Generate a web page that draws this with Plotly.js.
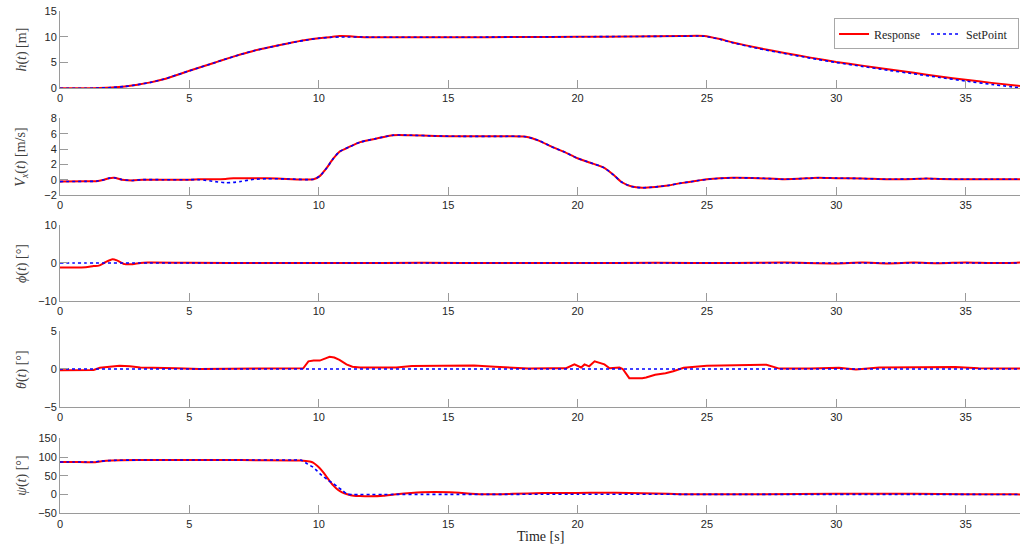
<!DOCTYPE html>
<html>
<head>
<meta charset="utf-8">
<script src="https://cdn.plot.ly/plotly-3.0.1.min.js"></script>
<style>html,body{margin:0;padding:0;background:#fff;}#chart{width:1028px;height:544px;}</style>
</head>
<body>
<div id="chart"></div>
<script>
// ---------- DATA ----------
const seriesNames = ["Response", "SetPoint"];
const xTickVals = [0, 5, 10, 15, 20, 25, 30, 35];

// h(t) [m]
const t_h = [0, 1, 1.5, 2, 2.5, 3, 3.5, 4, 5, 6, 6.2, 7, 7.5, 8, 8.8, 9.5, 10, 10.5, 10.8, 11.2, 11.6, 12, 15, 18, 20, 22, 24, 24.9, 25.5, 26, 27, 28, 29, 30, 31, 32, 33, 34, 35, 36, 37.1];
const h_resp = [0, 0, 0.05, 0.15, 0.35, 0.7, 1.15, 1.75, 3.4, 5.0, 5.35, 6.6, 7.3, 7.85, 8.7, 9.35, 9.7, 9.95, 10.15, 10.1, 9.95, 9.9, 9.9, 9.95, 10.0, 10.05, 10.15, 10.15, 9.55, 8.9, 7.8, 6.85, 5.95, 5.1, 4.4, 3.7, 3.0, 2.3, 1.65, 1.05, 0.45];
const h_set  = [0, 0, 0.05, 0.15, 0.35, 0.7, 1.15, 1.75, 3.4, 5.0, 5.35, 6.6, 7.3, 7.85, 8.7, 9.35, 9.7, 9.9, 9.95, 9.95, 9.95, 9.9, 9.9, 9.95, 10.0, 10.05, 10.1, 10.1, 9.5, 8.85, 7.7, 6.75, 5.85, 5.0, 4.25, 3.5, 2.8, 2.1, 1.4, 0.75, 0.1];

// Vx(t) [m/s]
const t_v = [0, 1, 1.4, 1.7, 1.9, 2.1, 2.4, 2.8, 3.2, 4, 5, 5.4, 6, 6.4, 6.7, 6.95, 7.5, 8, 8.75, 9.8, 10.05, 10.3, 10.55, 10.8, 11.2, 11.6, 12.2, 12.87, 13.5, 14.5, 15.5, 17, 18, 18.5, 19, 19.5, 20, 20.5, 21, 21.4, 21.7, 22.1, 22.5, 23, 23.5, 24, 24.5, 25, 26, 27, 28, 29, 29.3, 30, 31, 32, 33, 33.5, 34, 35, 36, 37.1];
const vx_resp = [-0.25, -0.22, -0.2, 0.0, 0.2, 0.25, 0.0, -0.1, 0.0, 0.0, 0.0, 0.05, 0.05, 0.1, 0.18, 0.2, 0.2, 0.18, 0.1, 0.05, 0.5, 1.5, 2.7, 3.65, 4.3, 4.9, 5.35, 5.8, 5.8, 5.7, 5.65, 5.65, 5.6, 5.1, 4.3, 3.6, 2.8, 2.2, 1.6, 0.6, -0.3, -0.9, -1.05, -0.95, -0.75, -0.45, -0.2, 0.05, 0.25, 0.2, 0.05, 0.2, 0.25, 0.2, 0.15, 0.05, 0.1, 0.15, 0.1, 0.05, 0.05, 0.05];
const vx_set  = [-0.25, -0.22, -0.2, 0.0, 0.2, 0.25, 0.0, -0.1, 0.0, 0.0, 0.0, 0.0, -0.25, -0.4, -0.35, -0.25, 0.05, 0.12, 0.1, 0.05, 0.5, 1.5, 2.7, 3.65, 4.3, 4.9, 5.35, 5.8, 5.8, 5.7, 5.65, 5.65, 5.6, 5.1, 4.3, 3.6, 2.8, 2.2, 1.6, 0.6, -0.3, -0.9, -1.05, -0.95, -0.75, -0.45, -0.2, 0.05, 0.25, 0.2, 0.05, 0.2, 0.25, 0.2, 0.15, 0.05, 0.1, 0.15, 0.1, 0.05, 0.05, 0.05];

// phi(t) [deg]
const t_phi = [0, 0.5, 1.0, 1.3, 1.5, 1.75, 2.03, 2.2, 2.5, 2.8, 3.1, 3.4, 5, 8, 11, 14, 17, 20, 23, 26, 28, 30, 31, 32, 33, 34, 35, 36, 37.1];
const phi_resp = [-1.2, -1.2, -1.1, -0.8, -0.7, 0.2, 1.0, 0.7, -0.3, -0.3, 0.0, 0.1, 0.05, 0.0, 0.0, 0.05, 0.0, 0.0, 0.05, 0.0, 0.1, -0.1, 0.15, -0.1, 0.1, -0.05, 0.15, 0.0, 0.1];
const phi_set  = [0, 0, 0, 0, 0, 0, 0, 0, 0, 0, 0, 0, 0, 0, 0, 0, 0, 0, 0, 0, 0, 0, 0, 0, 0, 0, 0, 0, 0];

// theta(t) [deg]
const t_th = [0, 1.3, 1.54, 2.0, 2.3, 2.7, 3.1, 3.6, 4.25, 4.5, 5.4, 7, 9.27, 9.4, 9.6, 9.8, 10.04, 10.17, 10.42, 10.6, 10.8, 11.07, 11.3, 11.6, 12.5, 13.0, 13.6, 14.5, 15.3, 16.0, 16.8, 18.1, 19.0, 19.56, 19.88, 20.14, 20.27, 20.45, 20.66, 21.04, 21.24, 21.45, 21.62, 21.75, 22.0, 22.5, 22.65, 23.0, 23.4, 23.7, 23.9, 24.1, 25.0, 26.0, 26.9, 27.3, 27.8, 29.0, 30.1, 30.76, 31.66, 33.0, 34.6, 35.5, 37.1];
const th_resp = [-0.15, -0.13, 0.17, 0.35, 0.43, 0.35, 0.2, 0.15, 0.17, 0.1, 0.0, 0.05, 0.1, 0.1, 1.0, 1.1, 1.1, 1.25, 1.6, 1.5, 1.2, 0.6, 0.3, 0.2, 0.2, 0.2, 0.4, 0.45, 0.5, 0.45, 0.3, 0.05, 0.1, 0.1, 0.6, 0.2, 0.6, 0.35, 1.0, 0.6, 0.1, 0.15, 0.2, 0.0, -1.2, -1.2, -1.1, -0.75, -0.55, -0.3, -0.05, 0.17, 0.43, 0.5, 0.5, 0.55, 0.05, 0.05, 0.15, -0.05, 0.2, 0.2, 0.25, 0.1, 0.05];
const th_set  = [0, 0, 0, 0, 0, 0, 0, 0, 0, 0, 0, 0, 0, 0, 0, 0, 0, 0, 0, 0, 0, 0, 0, 0, 0, 0, 0, 0, 0, 0, 0, 0, 0, 0, 0, 0, 0, 0, 0, 0, 0, 0, 0, 0, 0, 0, 0, 0, 0, 0, 0, 0, 0, 0, 0, 0, 0, 0, 0, 0, 0, 0, 0, 0, 0];

// psi(t) [deg]
const t_psi = [0, 0.5, 1.0, 1.3, 1.6, 2.0, 3, 5, 7, 9.0, 9.3, 9.65, 9.78, 10.04, 10.2, 10.36, 10.55, 10.75, 10.9, 11.1, 11.35, 11.6, 12.0, 12.5, 13.0, 14.0, 15.06, 16.3, 17.5, 18.66, 20, 21, 22, 23, 24, 25, 27, 30, 33, 35, 37.1];
const psi_resp = [87, 87, 86, 86, 89, 91, 92, 92, 92, 91, 91, 88, 85, 70, 57, 42, 25, 12, 6, 1, -3, -4, -4.5, -3, 1, 6, 6, 1, 2, 4, 4, 5, 4.5, 3, 1, 1, 1, 2, 2, 1, 0.5];
const psi_set  = [87, 87, 87, 87, 89, 91, 92, 92, 92, 92, 92, 78, 73, 56, 47, 38, 30, 19, 12, 1, 0, 0, 0, 0, 0.5, 0.5, 0.5, 0.5, 0.5, 1, 1, 1, 1, 1, 0.5, 0.5, 0.5, 0.5, 0.5, 0.5, 0];

const yRanges = [[0, 15], [-2, 8], [-10, 10], [-5, 5], [-50, 150]];
const yTickVals = [[0, 5, 10, 15], [-2, 0, 2, 4, 6, 8], [-10, 0, 10], [-5, 0, 5], [-50, 0, 50, 100, 150]];
const yTitles = [
  "<i>h</i>(<i>t</i>) [m]",
  "<i>V<sub>x</sub></i>(<i>t</i>) [m/s]",
  "<i>ϕ</i>(<i>t</i>) [°]",
  "<i>θ</i>(<i>t</i>) [°]",
  "<i>ψ</i>(<i>t</i>) [°]"
];
const xTitle = "Time [s]";

// ---------- BUILD ----------
const panels = [
  [t_h, h_resp, h_set, "spline"],
  [t_v, vx_resp, vx_set, "spline"],
  [t_phi, phi_resp, phi_set, "spline"],
  [t_th, th_resp, th_set, "linear"],
  [t_psi, psi_resp, psi_set, "spline"]
];
const domains = [[0.8377, 0.9798], [0.6415, 0.7825], [0.4467, 0.5864], [0.2513, 0.3921], [0.0564, 0.1943]];
const xRange = [0, 37.1];
const axisColor = "#9a9a9a";
const tickFont = {family: "Liberation Sans, Arial, sans-serif", size: 11, color: "#262626"};
const serif = "Liberation Serif, DejaVu Serif, serif";

const traces = [];
const layout = {
  width: 1028, height: 544,
  margin: {l: 60, r: 8, t: 0, b: 0},
  paper_bgcolor: "#ffffff", plot_bgcolor: "#ffffff",
  showlegend: true,
  legend: {
    orientation: "h", x: 0.999, xanchor: "right", y: 0.966, yanchor: "top",
    bordercolor: "#a8a8a8", borderwidth: 1, bgcolor: "#ffffff",
    font: {family: serif, size: 12, color: "#262626"},
    itemwidth: 30, tracegroupgap: 0, entrywidth: 47, entrywidthmode: "pixels"
  },
  annotations: []
};

panels.forEach((p, i) => {
  const n = i + 1;
  const xa = n === 1 ? "x" : "x" + n;
  const ya = n === 1 ? "y" : "y" + n;
  const shp = p[3];
  traces.push({
    x: p[0], y: p[1], xaxis: xa, yaxis: ya, mode: "lines", name: seriesNames[0],
    line: {color: "#ff0000", width: 2, shape: shp, smoothing: 0.6}, showlegend: i === 0, legendgroup: "r"
  });
  traces.push({
    x: p[0], y: p[2], xaxis: xa, yaxis: ya, mode: "lines", name: seriesNames[1],
    line: {color: "#0000ff", width: 1.6, dash: "dot", shape: shp, smoothing: 0.6}, showlegend: i === 0, legendgroup: "s"
  });
  layout[n === 1 ? "xaxis" : "xaxis" + n] = {
    domain: [0, 1], anchor: ya, range: xRange, tickmode: "array", tickvals: xTickVals,
    showline: true, linecolor: axisColor, linewidth: 1, ticks: "inside", ticklen: 8,
    tickcolor: axisColor, showgrid: false, zeroline: false, tickfont: tickFont
  };
  layout[n === 1 ? "yaxis" : "yaxis" + n] = {
    domain: domains[i], anchor: xa, range: yRanges[i], tickmode: "array", tickvals: yTickVals[i],
    showline: true, linecolor: axisColor, linewidth: 1, ticks: "inside", ticklen: 8,
    tickcolor: axisColor, showgrid: false, zeroline: false, tickfont: tickFont
  };
  layout.annotations.push({
    xref: "paper", yref: "paper", x: -0.0396, y: (domains[i][0] + domains[i][1]) / 2,
    xanchor: "center", yanchor: "middle", textangle: -90, showarrow: false,
    text: yTitles[i], font: {family: serif, size: 14, color: "#404040"}
  });
});
layout.annotations.push({
  xref: "paper", yref: "paper", x: 0.5, y: 0.0129, xanchor: "center", yanchor: "middle",
  showarrow: false, text: xTitle, font: {family: serif, size: 14, color: "#262626"}
});

Plotly.newPlot("chart", traces, layout, {displayModeBar: false, staticPlot: true});
</script>
</body>
</html>
